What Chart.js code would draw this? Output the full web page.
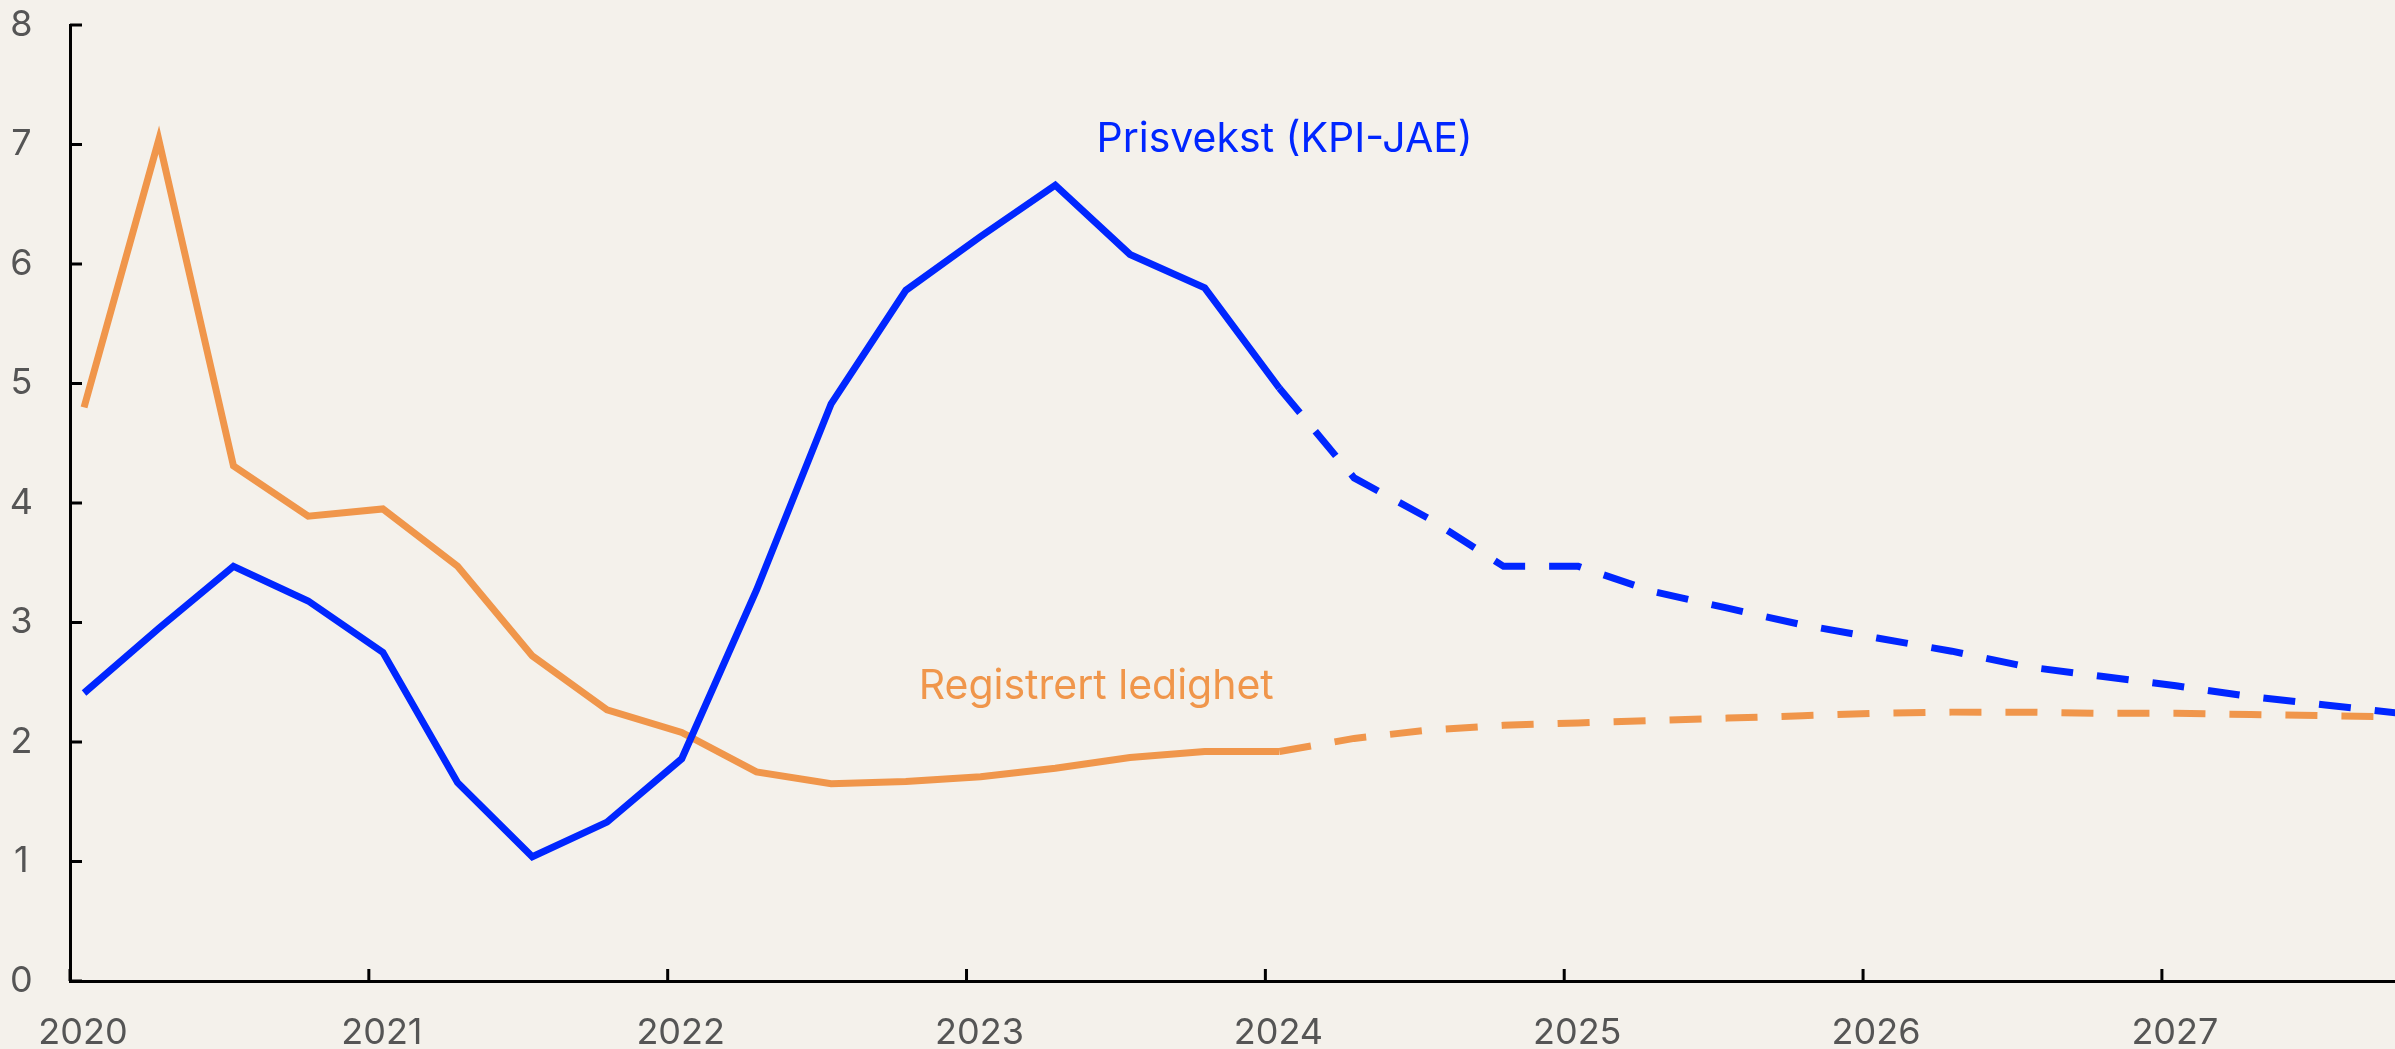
<!DOCTYPE html>
<html>
<head>
<meta charset="utf-8">
<script src="https://cdn.jsdelivr.net/npm/chart.js@4"></script>
<style>
    body { margin: 0; background: #f4f1eb; }
    #wrap { width: 2395px; height: 1049px; }
</style>
</head>
<body>
<div id="wrap"><canvas id="chart"></canvas></div>
<script>
// quarterly observations, 2020K1 .. 2027K4 (from 2024K1 = projection)
const years = [2020, 2021, 2022, 2023, 2024, 2025, 2026, 2027];
const quarters = [1, 2, 3, 4];
const forecastFrom = 16;

const prisvekst = [
    2.41, 2.95, 3.47, 3.18,
    2.75, 1.66, 1.04, 1.33,
    1.86, 3.27, 4.83, 5.78,
    6.23, 6.66, 6.08, 5.80,
    4.96, 4.21, 3.87, 3.47,
    3.47, 3.26, 3.12, 2.98,
    2.87, 2.76, 2.63, 2.55,
    2.47, 2.38, 2.31, 2.24
];

const ledighet = [
    4.80, 7.04, 4.31, 3.89,
    3.95, 3.47, 2.72, 2.27,
    2.08, 1.75, 1.65, 1.67,
    1.71, 1.78, 1.87, 1.92,
    1.92, 2.03, 2.10, 2.14,
    2.16, 2.18, 2.20, 2.22,
    2.24, 2.25, 2.25, 2.24,
    2.24, 2.23, 2.22, 2.21
];

const seriesNames = ["Prisvekst (KPI-JAE)", "Registrert ledighet"];
const seriesColors = ["#0026ff", "#f0964b"];
// where the inline labels sit, in data units [x year, y value]
const labelAnchors = [[2023.435, 7.04], [2022.84, 2.46]];

const yTicks = [0, 1, 2, 3, 4, 5, 6, 7, 8];

function quarterPositions() {
    let xs = [];
    for (let y of years) {
        for (let q of quarters) {
            xs.push(y + (q - 1) / 4 + 0.047);
        }
    }
    return xs;
}

function toPoints(values) {
    let xs = quarterPositions();
    return values.map((v, i) => ({ x: xs[i], y: v }));
}

function makeDataset(name, values, color) {
    return {
        label: name,
        data: toPoints(values),
        borderColor: color,
        borderWidth: 7,
        pointRadius: 0,
        tension: 0,
        segment: {
            borderDash: ctx => ctx.p0DataIndex >= forecastFrom ? [32, 24] : undefined
        }
    };
}

const backgroundPlugin = {
    id: "bg",
    beforeDraw(chart) {
        let ctx = chart.ctx;
        ctx.save();
        ctx.fillStyle = "#f4f1eb";
        ctx.fillRect(0, 0, chart.width, chart.height);
        ctx.restore();
    }
};

// tick marks pointing into the plot
const innerTicksPlugin = {
    id: "innerTicks",
    afterDraw(chart) {
        let ctx = chart.ctx;
        let x = chart.scales.x;
        let y = chart.scales.y;
        let len = 12;
        ctx.save();
        ctx.strokeStyle = "#000";
        ctx.lineWidth = 3;
        ctx.beginPath();
        for (let t of x.ticks) {
            let px = x.getPixelForValue(t.value);
            ctx.moveTo(px, y.bottom);
            ctx.lineTo(px, y.bottom - len);
        }
        for (let t of y.ticks) {
            let py = y.getPixelForValue(t.value);
            ctx.moveTo(x.left, py);
            ctx.lineTo(x.left + len, py);
        }
        ctx.stroke();
        ctx.restore();
    }
};

const seriesLabelPlugin = {
    id: "seriesLabels",
    afterDatasetsDraw(chart) {
        let ctx = chart.ctx;
        let x = chart.scales.x;
        let y = chart.scales.y;
        ctx.save();
        ctx.font = "400 41px Inter";
        ctx.textAlign = "left";
        ctx.textBaseline = "middle";
        seriesNames.forEach((name, i) => {
            ctx.fillStyle = seriesColors[i];
            ctx.fillText(name, x.getPixelForValue(labelAnchors[i][0]), y.getPixelForValue(labelAnchors[i][1]));
        });
        ctx.restore();
    }
};

new Chart(document.getElementById("chart"), {
    type: "line",
    data: {
        datasets: [
            makeDataset(seriesNames[0], prisvekst, seriesColors[0]),
            makeDataset(seriesNames[1], ledighet, seriesColors[1])
        ]
    },
    options: {
        responsive: true,
        maintainAspectRatio: false,
        animation: false,
        layout: { padding: { top: 25, left: 0, right: 0, bottom: 0 } },
        plugins: {
            legend: { display: false },
            tooltip: { enabled: false }
        },
        scales: {
            x: {
                type: "linear",
                min: 2020,
                max: 2027.78,
                grid: { display: false, drawTicks: false },
                border: { display: true, color: "#000", width: 3 },
                afterBuildTicks: scale => {
                    scale.ticks = years.map(v => ({ value: v }));
                },
                afterFit: scale => {
                    scale.height = 68;
                    scale.paddingLeft = 0;
                    scale.paddingRight = 0;
                },
                ticks: {
                    stepSize: 1,
                    padding: 31,
                    labelOffset: 13,
                    maxRotation: 0,
                    color: "#555",
                    font: { family: "Inter", size: 36 },
                    callback: v => String(v)
                }
            },
            y: {
                min: 0,
                max: 8,
                grid: { display: false, drawTicks: false },
                border: { display: true, color: "#000", width: 3 },
                afterBuildTicks: scale => {
                    scale.ticks = yTicks.map(v => ({ value: v }));
                },
                afterFit: scale => {
                    scale.width = 70;
                    scale.paddingTop = 0;
                    scale.paddingBottom = 0;
                },
                ticks: {
                    stepSize: 1,
                    padding: 37,
                    crossAlign: "center",
                    color: "#555",
                    font: { family: "Inter", size: 36 },
                    callback: v => String(v)
                }
            }
        }
    },
    plugins: [backgroundPlugin, innerTicksPlugin, seriesLabelPlugin]
});
</script>
</body>
</html>
